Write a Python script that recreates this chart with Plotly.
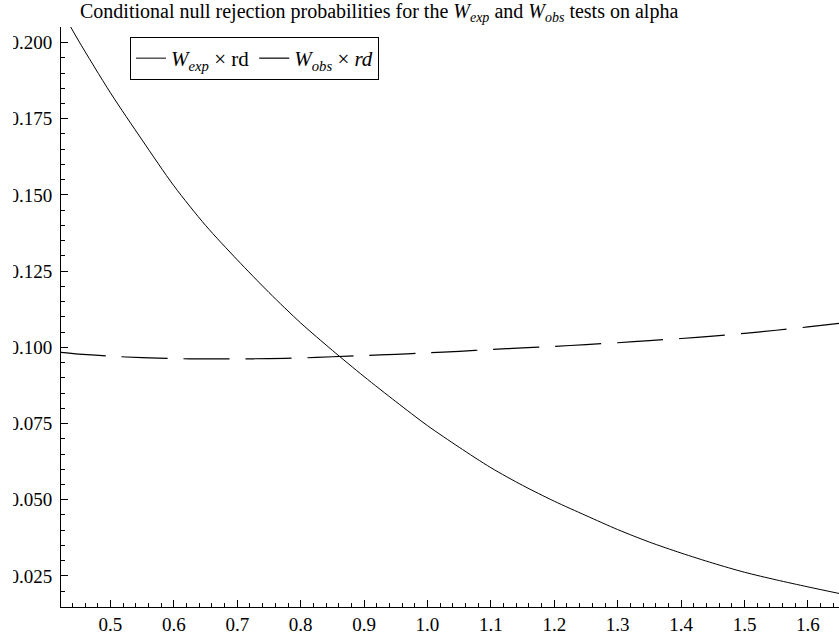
import plotly.graph_objects as go

# Data
x_vals = [0.43, 0.45, 0.50, 0.55, 0.60, 0.65, 0.70, 0.75, 0.80, 0.85, 0.90, 0.95,
          1.00, 1.05, 1.10, 1.15, 1.20, 1.25, 1.30, 1.35, 1.40, 1.45, 1.50, 1.55,
          1.60, 1.65]
w_exp = [0.2078, 0.2005, 0.1835, 0.1680, 0.1530, 0.1400, 0.1287, 0.1180, 0.1080,
         0.0990, 0.0904, 0.0822, 0.0743, 0.0672, 0.0605, 0.0547, 0.0495, 0.0448,
         0.0402, 0.0361, 0.0325, 0.0292, 0.0262, 0.0237, 0.0214, 0.0192]
x_obs = [0.42, 0.45, 0.50, 0.55, 0.60, 0.65, 0.70, 0.75, 0.80, 0.85, 0.90, 0.95,
         1.00, 1.05, 1.10, 1.15, 1.20, 1.25, 1.30, 1.35, 1.40, 1.45, 1.50, 1.55,
         1.60, 1.65]
w_obs = [0.0984, 0.0978, 0.0971, 0.0966, 0.0963, 0.0962, 0.0962, 0.0963, 0.0965,
         0.0969, 0.0973, 0.0977, 0.0982, 0.0987, 0.0993, 0.0998, 0.1003, 0.1009,
         0.1015, 0.1022, 0.1029, 0.1037, 0.1046, 0.1056, 0.1067, 0.1079]

title_text = ("Conditional null rejection probabilities for the "
              "<i>W</i><sub><i>exp</i></sub> and <i>W</i><sub><i>obs</i></sub> tests on alpha")
name_exp = "<i>W</i><sub><i>exp</i></sub> × rd"
name_obs = "<i>W</i><sub><i>obs</i></sub> × <i>rd</i>"

FONT = "Liberation Serif"
W, H = 839, 637
ML, MR, MT, MB = 61, 0, 27, 30
PW, PH = W - ML - MR, H - MT - MB

fig = go.Figure()
fig.add_trace(go.Scatter(x=x_vals, y=w_exp, mode="lines", name=name_exp,
                         line=dict(color="black", width=1, shape="spline",
                                   smoothing=0.8)))
fig.add_trace(go.Scatter(x=x_obs, y=w_obs, mode="lines", name=name_obs,
                         line=dict(color="black", width=1.2, dash="46px,16px",
                                   shape="spline", smoothing=0.8)))

axis_common = dict(
    showline=True, linecolor="black", linewidth=1,
    ticks="inside", tickcolor="black", tickwidth=1,
    showgrid=False, zeroline=False,
    tickfont=dict(family=FONT, size=19, color="black"),
)

fig.update_xaxes(range=[0.422, 1.649], dtick=0.1, tick0=0.5, tickformat=".1f",
                 ticklen=7, minor=dict(ticks="inside", dtick=0.02, ticklen=4,
                                        tickcolor="black", tickwidth=1),
                 **axis_common)
fig.update_yaxes(range=[0.0148, 0.2051], dtick=0.025, tick0=0.025, tickformat=".3f",
                 ticklen=7, ticklabelstandoff=4,
                 minor=dict(ticks="inside", dtick=0.005, ticklen=4,
                            tickcolor="black", tickwidth=1),
                 **axis_common)

# white strip at the far left edge (the reference image is cut there)
fig.add_shape(type="rect", xref="paper", yref="paper", layer="above",
              x0=(0 - ML) / PW, x1=(13 - ML) / PW,
              y0=-MB / PH, y1=1 + MT / PH,
              fillcolor="white", line=dict(width=0))

fig.update_layout(
    width=W, height=H,
    margin=dict(l=ML, r=MR, t=MT, b=MB),
    plot_bgcolor="white", paper_bgcolor="white",
    font=dict(family=FONT, size=19, color="black"),
    title=dict(text=title_text, x=80/W, xanchor="left", xref="container",
               y=1-4/H, yanchor="top", yref="container",
               font=dict(family=FONT, size=20, color="black")),
    legend=dict(orientation="h", x=(130-ML)/PW, xanchor="left",
                y=(H-MB-37)/PH, yanchor="top",
                bordercolor="black", borderwidth=1, bgcolor="white",
                font=dict(family=FONT, size=21, color="black")),
)

fig.write_html("out.html")
